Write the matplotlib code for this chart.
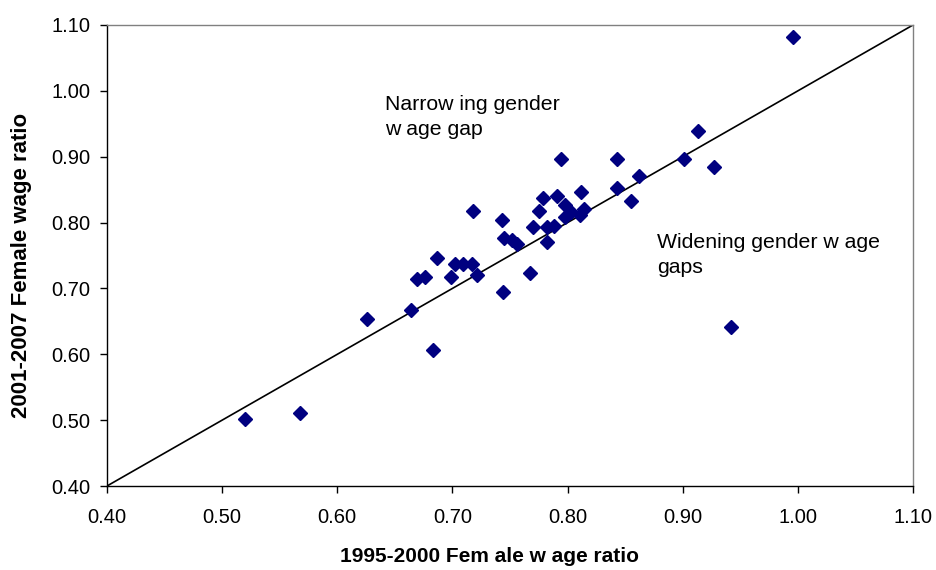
import numpy as np
import matplotlib.pyplot as plt

plt.rcParams['font.family'] = ['Liberation Sans', 'DejaVu Sans']

# female wage ratio, 1995-2000 vs 2001-2007
ratio_9500 = [0.520, 0.568, 0.626, 0.664, 0.669, 0.676, 0.683, 0.687, 0.699, 0.702,
              0.709, 0.717, 0.721, 0.718, 0.743, 0.744, 0.745, 0.752, 0.756, 0.767,
              0.770, 0.775, 0.779, 0.782, 0.782, 0.788, 0.791, 0.794, 0.798, 0.798,
              0.803, 0.811, 0.814, 0.812, 0.843, 0.843, 0.855, 0.862, 0.901, 0.913,
              0.927, 0.942, 0.996]
ratio_0107 = [0.502, 0.511, 0.654, 0.667, 0.715, 0.718, 0.606, 0.746, 0.718, 0.737,
              0.737, 0.737, 0.721, 0.818, 0.804, 0.694, 0.777, 0.773, 0.768, 0.724,
              0.793, 0.818, 0.837, 0.771, 0.794, 0.795, 0.840, 0.897, 0.826, 0.809,
              0.816, 0.811, 0.820, 0.846, 0.897, 0.853, 0.833, 0.870, 0.897, 0.939,
              0.885, 0.642, 1.082]
ticks = [0.40, 0.50, 0.60, 0.70, 0.80, 0.90, 1.00, 1.10]
diag = [0.40, 1.10]

fig = plt.figure(figsize=(9.37, 5.70), dpi=100)
ax = fig.add_axes([107/937, 1-486/570, 806/937, 461/570])

ax.plot(diag, diag, color='black', lw=1.2, zorder=2)
ax.plot(ratio_9500, ratio_0107, linestyle='none', marker='D', ms=6.8,
        color='#000080', zorder=3, clip_on=False)

ax.set_xlim(0.40, 1.10)
ax.set_ylim(0.40, 1.10)
ax.set_xticks(ticks)
ax.set_yticks(ticks)
ax.set_xticklabels(['%.2f' % t for t in ticks])
ax.set_yticklabels(['%.2f' % t for t in ticks])
ax.tick_params(axis='x', direction='out', length=5, width=1, pad=11, labelsize=14.5)
ax.tick_params(axis='y', direction='out', length=5, width=1, pad=7, labelsize=14.5)

for s in ['top', 'right']:
    ax.spines[s].set_color('#808080')
for s in ['left', 'bottom']:
    ax.spines[s].set_color('black')
for s in ax.spines.values():
    s.set_linewidth(1.0)

# baseline given for the last line of each note
ax.text(0.6417, 0.9326, 'Narrow ing gender\nw age gap', fontsize=15.3,
        va='baseline', ha='left', linespacing=1.42)
ax.text(0.878, 0.7232, 'Widening gender w age\ngaps', fontsize=15.3,
        va='baseline', ha='left', linespacing=1.42)

fig.text(490/937, 1-557/570, '1995-2000 Fem ale w age ratio', fontsize=15,
         fontweight='bold', ha='center', va='center')
fig.text(22/937, 1-265/570, '2001-2007 Female wage ratio', fontsize=16,
         fontweight='bold', ha='center', va='center', rotation=90)

fig.savefig('out.png', dpi=100)
